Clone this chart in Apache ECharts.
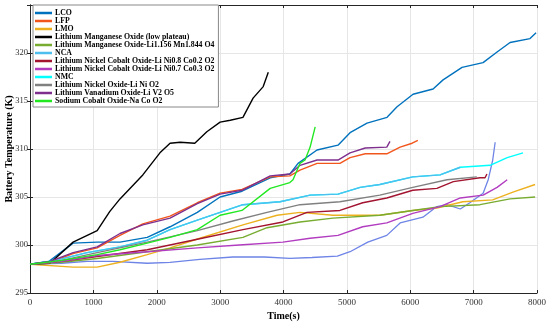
<!DOCTYPE html>
<html><head><meta charset="utf-8">
<script src="https://cdn.jsdelivr.net/npm/echarts@6/dist/echarts.min.js"></script>
<style>html,body{margin:0;padding:0;background:#fff}#c{width:550px;height:325px}</style>
</head><body><div id="c"></div>
<script>
// x ticks and y ticks
const xTicks = [0,1000,2000,3000,4000,5000,6000,7000,8000];
const yTicks = [295,300,305,310,315,320];

// series data: [time(s), temperature(K)]
const lco = [[0,298],[300,298.3],[680,300.2],[1060,300.3],[1420,300.3],[1850,300.8],[2210,301.9],[2640,303.4],[3000,305.0],[3345,305.6],[3790,307.0],[4100,307.4],[4230,308.5],[4529,309.9],[4860,310.4],[5050,311.7],[5318,312.7],[5634,313.3],[5792,314.4],[6044,315.7],[6360,316.25],[6518,317.2],[6817,318.5],[7149,319.0],[7370,320.1],[7575,321.1],[7890,321.5],[7985,322.1]];
const lfp = [[0,298],[316,298.2],[680,299.1],[1060,299.7],[1420,301.0],[1780,302.2],[2210,303.0],[2640,304.4],[3000,305.4],[3345,305.8],[3790,307.1],[4100,307.2],[4260,307.8],[4530,308.5],[4890,308.5],[5050,309.1],[5290,309.5],[5630,309.5],[5840,310.2],[6030,310.6],[6120,310.9]];
const lmo = [[0,298],[680,297.7],[1060,297.7],[1420,298.2],[1850,299.0],[2210,299.7],[2680,300.7],[3360,302.1],[3900,303.1],[4260,303.4],[4780,303.1],[5520,303.1],[6040,303.6],[6420,303.85],[6830,304.5],[7300,304.7],[7620,305.5],[7970,306.3]];
const lmoLow = [[0,298],[316,298.1],[680,300.3],[1060,301.5],[1260,303.5],[1420,304.8],[1780,307.3],[2050,309.6],[2210,310.6],[2370,310.7],[2600,310.6],[2790,311.8],[3000,312.8],[3160,313.0],[3360,313.3],[3520,315.3],[3680,316.5],[3760,318.0]];
const lmoLi1156 = [[0,298],[500,298.2],[1060,298.6],[1850,299.3],[2640,300.0],[3360,300.8],[3740,301.8],[4260,302.4],[4780,302.8],[5520,303.1],[6040,303.6],[6470,304.0],[7100,304.2],[7575,304.8],[7970,305.0]];
const nca = [[0,298],[400,298.4],[900,299.2],[1420,299.8],[1850,300.5],[2210,301.6],[2640,302.6],[3360,304.2],[3945,304.5],[4420,305.2],[4860,305.3],[5210,306.0],[5520,306.3],[6040,307.1],[6470,307.3],[6790,308.1]];
const nco82 = [[0,298],[500,298.3],[1060,298.8],[1850,299.5],[2640,300.6],[3360,301.6],[3990,302.4],[4370,303.4],[4890,303.6],[5250,304.4],[5630,304.9],[6040,305.7],[6420,305.9],[6680,306.6],[7100,307.0],[7180,307.0],[7210,307.4]];
const nco73 = [[0,298],[500,298.3],[1060,298.9],[1850,299.3],[2640,299.7],[3300,300.0],[3990,300.3],[4420,300.7],[4860,301.0],[5250,301.9],[5630,302.3],[6040,303.3],[6470,304.0],[6790,304.9],[7150,305.2],[7370,306.0],[7530,306.8]];
const nmc = [[0,298],[400,298.4],[900,299.2],[1420,299.8],[1850,300.5],[2210,301.6],[2640,302.6],[3360,304.2],[3945,304.5],[4420,305.2],[4860,305.3],[5210,306.0],[5520,306.3],[6040,307.1],[6470,307.3],[6790,308.1],[7260,308.3],[7530,309.1],[7780,309.6]];
const lno = [[0,298],[500,298.4],[1060,299.2],[1850,300.3],[2640,301.5],[3200,302.5],[3740,303.4],[4260,304.2],[4890,304.5],[5520,305.2],[6040,306.0],[6580,306.8],[7050,307.1]];
const lvo = [[0,298],[316,298.3],[680,299.2],[1060,299.8],[1420,301.2],[1780,302.1],[2210,302.8],[2640,304.3],[3000,305.3],[3345,305.7],[3790,307.2],[4100,307.4],[4260,308.3],[4530,308.85],[4860,308.85],[5050,309.6],[5290,310.1],[5630,310.2],[5680,310.8]];
const nacoo2 = [[0,298],[500,298.4],[1060,299.0],[1420,299.5],[1850,300.2],[2210,300.8],[2640,301.6],[3000,303.1],[3345,303.6],[3790,305.9],[4100,306.5],[4150,306.8],[4260,308.5],[4340,308.85],[4420,310.2],[4500,312.3]];
const extraBlue = [[0,298],[500,298.1],[900,298.3],[1310,298.3],[1850,298.1],[2210,298.2],[2680,298.5],[3200,298.75],[3700,298.75],[4100,298.6],[4450,298.7],[4850,298.85],[5050,299.3],[5330,300.3],[5630,301.0],[5840,302.3],[6200,302.9],[6420,304.0],[6580,304.2],[6790,303.75],[6940,304.4],[7150,305.4],[7230,306.8],[7300,308.8],[7340,310.7]];

const names = ['LCO','LFP','LMO','Lithium Manganese Oxide (low plateau)','Lithium Manganese Oxide-Li1.156 Mn1.844 O4','NCA','Lithium Nickel Cobalt Oxide-Li Ni0.8 Co0.2 O2','Lithium Nickel Cobalt Oxide-Li Ni0.7 Co0.3 O2','NMC','Lithium Nickel Oxide-Li Ni O2','Lithium Vanadium Oxide-Li V2 O5','Sodium Cobalt Oxide-Na Co O2'];
const colors = ['#0072BD','#F2561D','#EDB120','#000000','#77AC30','#4DBEEE','#A2142F','#B23CC0','#00FFFF','#808080','#7E2F8E','#22E822'];
const datas = [lco,lfp,lmo,lmoLow,lmoLi1156,nca,nco82,nco73,nmc,lno,lvo,nacoo2];
// drawing order (later on top)
const order = [8,0,1,2,3,4,5,6,7,9,10,11];

const font = 'Liberation Serif';
const series = [];
series.push({name:'_extra',type:'line',data:extraBlue,symbol:'none',lineStyle:{width:1.3,color:'#6E84E6'},itemStyle:{color:'#6E84E6'},z:2});
order.forEach(i=>{
  series.push({name:names[i],type:'line',data:datas[i],symbol:'none',lineStyle:{width:1.4,color:colors[i]},itemStyle:{color:colors[i]},z:2});
});

const chart = echarts.init(document.getElementById('c'),null,{renderer:'canvas'});
const axisLine = {show:true,lineStyle:{color:'#262626',width:1}};
chart.setOption({
  animation:false,
  backgroundColor:'#fff',
  grid:{left:30,right:13,top:5,bottom:32,containLabel:false,outerBoundsMode:'none'},
  legend:{
    data:names,orient:'vertical',left:33,top:5,
    padding:[4,4,2,2],itemGap:0,itemWidth:17,itemHeight:2.5,icon:'rect',
    backgroundColor:'#fff',borderColor:'#888',borderWidth:1,
    textStyle:{fontFamily:font,fontWeight:'bold',fontSize:7.8,color:'#000',lineHeight:7.6,padding:[0,0,0,-2]}
  },
  xAxis:[{type:'value',min:0,max:8000,interval:1000,
    name:'Time(s)',nameLocation:'middle',nameGap:18,nameMoveOverlap:false,
    nameTextStyle:{fontFamily:font,fontWeight:'bold',fontSize:10,color:'#000'},
    axisLine:axisLine,axisTick:{show:true,inside:true,length:3,lineStyle:{color:'#262626'}},
    axisLabel:{fontFamily:font,fontSize:9,color:'#333',margin:5,formatter:v=>String(v)},
    splitLine:{show:true,lineStyle:{color:'#e6e6e6',width:1}}},
   {type:'value',position:'top',min:0,max:8000,interval:1000,axisLine:axisLine,
    axisTick:{show:true,inside:true,length:3,lineStyle:{color:'#262626'}},axisLabel:{show:false},splitLine:{show:false}}],
  yAxis:[{type:'value',min:295,max:325,interval:5,
    name:'Battery Temperature (K)',nameLocation:'middle',nameGap:15.5,nameMoveOverlap:false,
    nameTextStyle:{fontFamily:font,fontWeight:'bold',fontSize:10,color:'#000'},
    axisLine:axisLine,axisTick:{show:true,inside:true,length:3,lineStyle:{color:'#262626'}},
    axisLabel:{fontFamily:font,fontSize:8.5,color:'#333',margin:2,showMaxLabel:false,formatter:v=>String(v)},
    splitLine:{show:true,lineStyle:{color:'#e6e6e6',width:1}}},
   {type:'value',position:'right',min:295,max:325,interval:5,axisLine:axisLine,
    axisTick:{show:true,inside:true,length:3,lineStyle:{color:'#262626'}},axisLabel:{show:false},splitLine:{show:false}}],
  series:series
});
</script></body></html>
